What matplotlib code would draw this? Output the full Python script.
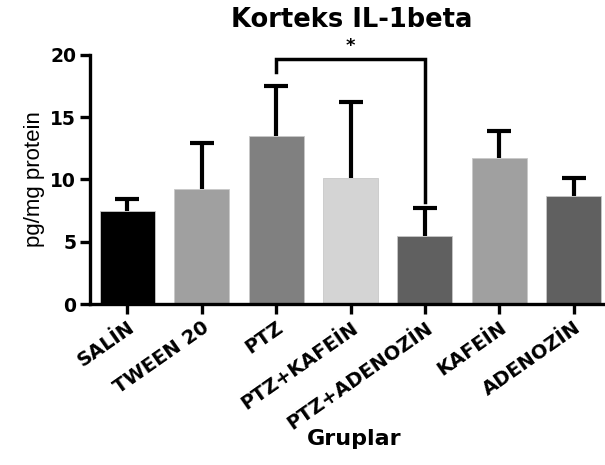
import numpy as np
import matplotlib.pyplot as plt

plt.rcParams['font.family'] = ['DejaVu Sans']

# gruplar ve ortalama degerler (pg/mg protein)
gruplar = ["SALİN", "TWEEN 20", "PTZ", "PTZ+KAFEİN", "PTZ+ADENOZİN", "KAFEİN", "ADENOZİN"]
ortalama = [7.5, 9.2, 13.45, 10.15, 5.5, 11.75, 8.7]
hata = [0.9, 3.7, 4.05, 6.05, 2.2, 2.15, 1.4]
renkler = ["#000000", "#a0a0a0", "#808080", "#d4d4d4", "#606060", "#a0a0a0", "#606060"]

# anlamlilik cizgisi: PTZ ile PTZ+ADENOZİN arasi
kars_sol, kars_sag = 2, 4
kars_y = 19.65
kars_sol_alt = 18.6
kars_sag_alt = 8.2

fig = plt.figure(figsize=(6.05, 4.65), dpi=100)
ax = fig.add_axes([0.149, 0.346, 0.851, 0.536])

x = np.arange(len(gruplar))
ust = np.array(ortalama) + np.array(hata)
ax.bar(x, ortalama, width=0.74, color=renkler, edgecolor="#c8c8c8", linewidth=0.6, zorder=2)
# sadece ust hata cubuklari
ax.vlines(x, ortalama, ust, color="black", lw=3, zorder=3)
ax.plot(x, ust, ls="none", marker="_", markersize=17, mew=3, color="black", zorder=3)

ax.plot([kars_sol, kars_sol, kars_sag, kars_sag],
        [kars_sol_alt, kars_y, kars_y, kars_sag_alt], color="black", lw=2.5,
        solid_joinstyle="miter", clip_on=False, zorder=4)
ax.text((kars_sol + kars_sag) / 2, kars_y + 0.35, "*", ha="center", va="bottom",
        fontsize=13, fontweight="bold")

ax.set_xlim(-0.5, 6.42)
ax.set_ylim(0, 20)
ax.set_yticks([0, 5, 10, 15, 20])
ax.set_xticks(x)
ax.set_xticklabels(gruplar, rotation=35, ha="right", rotation_mode="anchor",
                   fontsize=14, fontweight="bold")
for lbl in ax.get_yticklabels():
    lbl.set_fontsize(13.5)
    lbl.set_fontweight("bold")

ax.spines["top"].set_visible(False)
ax.spines["right"].set_visible(False)
ax.spines["left"].set_linewidth(2.4)
ax.spines["bottom"].set_linewidth(2.4)
ax.tick_params(axis="y", width=2.4, length=7, direction="out", pad=3)
ax.tick_params(axis="x", width=2.4, length=7, direction="out", pad=3)

ax.set_ylabel("pg/mg protein", fontsize=16, family="Liberation Sans", labelpad=4)
fig.text(0.585, 1 - 445 / 465, "Gruplar", ha="center", va="baseline",
         fontsize=16, fontweight="bold")
fig.text(0.581, 1 - 27 / 465, "Korteks IL-1beta", ha="center", va="baseline",
         fontsize=18.5, fontweight="bold")

plt.savefig("out.png", dpi=100)
